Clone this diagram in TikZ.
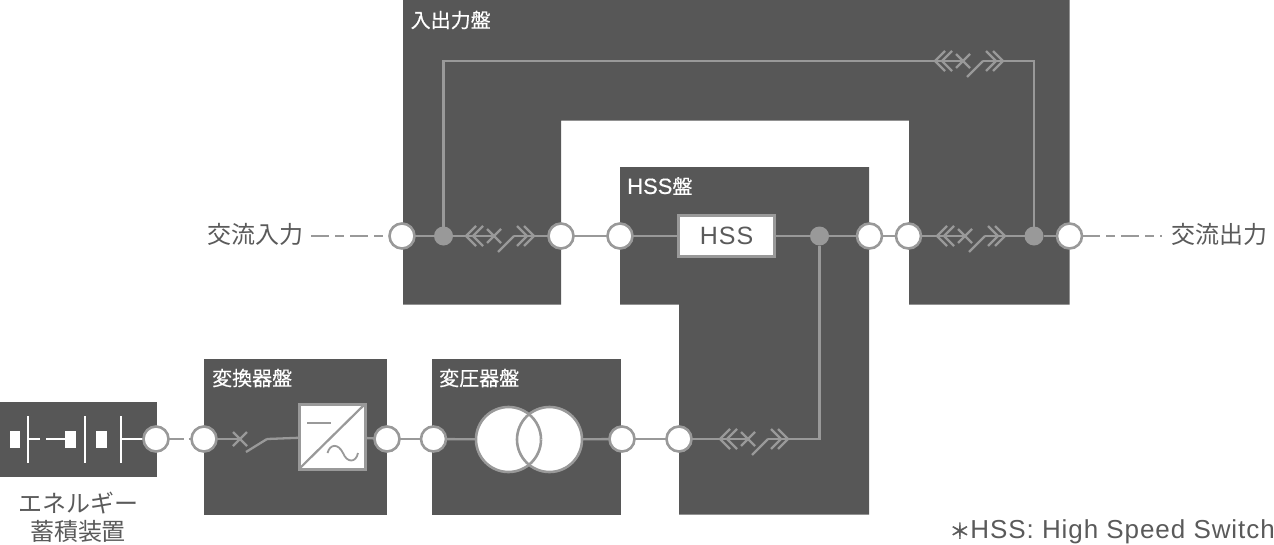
\documentclass[tikz,border=0pt]{standalone}
\usepackage{fontspec}
\setmainfont{Liberation Sans}
\newfontfamily\jp{Noto Sans CJK JP}
\newfontfamily\jpb[FakeBold=0.3]{Noto Sans CJK JP}
\newfontfamily\jpc[FakeBold=1.5]{Noto Sans CJK JP}
\newfontfamily\lat[LetterSpace=4]{Liberation Sans}
\newfontfamily\latn[LetterSpace=3.6]{Liberation Sans}
\newfontfamily\latb[FakeBold=0.3]{Liberation Sans}
\definecolor{panel}{HTML}{575757}
\definecolor{wire}{HTML}{999999}
\definecolor{ink}{HTML}{5A5A5A}
\pgfdeclarelayer{under}
\pgfdeclarelayer{wires}
\pgfsetlayers{under,wires,main}
\tikzset{
  x=1pt,y=-1pt,
  panelfill/.style={fill=panel,draw=none},
  wireline/.style={draw=wire,line width=2.3pt},
  port/.style={circle,fill=white,draw=wire,line width=2.6pt,minimum size=25pt,inner sep=0pt,outer sep=0pt},
  tap/.style={circle,fill=wire,draw=none,minimum size=19pt,inner sep=0pt,outer sep=0pt},
  plabel/.style={text=white,anchor=west,inner sep=0pt,font=\jpb\fontsize{20}{20}\selectfont},
  olabel/.style={text=ink,inner sep=0pt,font=\jp\fontsize{24}{28}\selectfont,align=center},
  feed/.style={wireline,dash pattern=on 18pt off 6pt on 9pt off 6pt},
  whiteline/.style={draw=white,line width=2pt},
  whitebar/.style={fill=white,draw=none},
  dsw/.pic={
    \coordinate (-l) at (-28,0);
    \coordinate (-m) at (0,0);
    \coordinate (-r) at (20,0);
    \coordinate (-e) at (40,0);
    \draw[wireline] (-7,-7) -- (7,7) (-7,7) -- (7,-7);
    \draw[wireline] (4,16) -- (20,0);
    \draw[wireline] (-18,-10) -- (-28,0) -- (-18,10);
    \draw[wireline] (-11,-10) -- (-21,0) -- (-11,10);
    \draw[wireline] (23,-10) -- (33,0) -- (23,10);
    \draw[wireline] (30,-10) -- (40,0) -- (30,10);
  },
  psw/.pic={
    \coordinate (-m) at (0,0);
    \coordinate (-r) at (27,0);
    \draw[wireline] (-7,-7) -- (7,7) (-7,7) -- (7,-7);
    \draw[wireline] (6,13) -- (27,0);
  }
}
\begin{document}
\begin{tikzpicture}
\useasboundingbox (0,0) rectangle (1274,544);
\begin{pgfonlayer}{under}
  \path[panelfill] (403,0) -- (1069.5,0) -- (1069.5,304.5) -- (909,304.5) -- (909,120.5) -- (561,120.5) -- (561,304.5) -- (403,304.5) -- cycle;
  \path[panelfill] (620,167) -- (869,167) -- (869,514.5) -- (679,514.5) -- (679,304.5) -- (620,304.5) -- cycle;
  \path[panelfill] (204,359) rectangle (387,514.5);
  \path[panelfill] (432,359) rectangle (621,514.5);
  \path[panelfill] (0,402) rectangle (157,477);
\end{pgfonlayer}

% ports
\node[port] (p1) at (402,236) {};
\node[port] (p2) at (561,236) {};
\node[port] (p3) at (620,236) {};
\node[port] (p4) at (869.5,236) {};
\node[port] (p5) at (908.5,236) {};
\node[port] (p6) at (1069.5,236) {};
\node[port] (q1) at (156,439) {};
\node[port] (q2) at (204,439) {};
\node[port] (q3) at (387,439) {};
\node[port] (q4) at (433.5,439) {};
\node[port] (q5) at (622,439) {};
\node[port] (q6) at (679,439) {};
% taps
\node[tap] (t1) at (443.5,236) {};
\node[tap] (t2) at (819.5,236) {};
\node[tap] (t3) at (1034,236) {};
% boxes
\node[draw=wire,fill=white,line width=2.4pt,minimum width=96pt,minimum height=41pt,inner sep=0pt,outer sep=0pt,text=ink,font=\lat\fontsize{25}{25}\selectfont] (hss) at (726.5,236) {HSS};
\node[draw=wire,fill=white,line width=3pt,minimum width=66pt,minimum height=65pt,inner sep=0pt,outer sep=0pt] (conv) at (332,436.5) {};
\draw[wire,line width=2.2pt] (conv.south west) -- (conv.north east);
\draw[wire,line width=1.8pt] (307,423) -- (331,423);
\draw[wire,line width=1.8pt] (327.5,453) .. controls (330,444) and (338,443) .. (343,453) .. controls (347,463) and (356,463) .. (358,453);
\node[circle,draw=wire,fill=white,line width=2.6pt,minimum size=65pt,inner sep=0pt,outer sep=0pt] (tl) at (508.5,439.5) {};
\node[circle,draw=wire,fill=white,line width=2.6pt,minimum size=65pt,inner sep=0pt,outer sep=0pt] (tr) at (549.5,439.5) {};
\draw[wire,line width=2.6pt] (508.5,439.5) ++(0:32.5) arc[start angle=0,end angle=51,radius=32.5];
\draw[wire,line width=2.6pt] (508.5,439.5) ++(0:32.5) arc[start angle=0,end angle=-51,radius=32.5];

% switches
\pic (s1) at (494,236) {dsw};
\pic (s2) at (963,61) {dsw};
\pic (s3) at (965,236) {dsw};
\pic (s4) at (748,439) {dsw};
\pic (s5) at (240,439) {psw};

% free ends
\coordinate (inL) at (311,236);
\coordinate (outR) at (1162,236);
\coordinate (c1) at (443.5,61);
\coordinate (c2) at (1034,61);
\coordinate (c3) at (819.5,439);

\begin{pgfonlayer}{wires}
  \draw[feed] (inL) -- (p1);
  \draw[feed] (p6) -- (outR);
  \draw[wireline,dash pattern=on 15pt off 5pt on 8pt off 8pt] (q1) -- (q2);
  \draw[wireline] (p1) -- (t1);
  \draw[wireline] (t1) -- (s1-m);
  \draw[wireline] (s1-r) -- (p2);
  \draw[wireline] (p2) -- (p3);
  \draw[wireline] (p3) -- (hss);
  \draw[wireline] (hss) -- (t2);
  \draw[wireline] (t2) -- (p4);
  \draw[wireline] (p4) -- (p5);
  \draw[wireline] (p5) -- (s3-m);
  \draw[wireline] (s3-r) -- (t3);
  \draw[wireline] (t3) -- (p6);
  \draw[wireline] (t1) -- (c1) -- (s2-m);
  \draw[wireline] (s2-r) -- (c2) -- (t3);
  \draw[wireline] (q2) -- (s5-m);
  \draw[wireline] (s5-r) -- (conv);
  \draw[wireline] (conv) -- (q3);
  \draw[wireline] (q3) -- (q4);
  \draw[wireline] (q4) -- (tl);
  \draw[wireline] (tr) -- (q5);
  \draw[wireline] (q5) -- (q6);
  \draw[wireline] (q6) -- (s4-m);
  \draw[wireline] (s4-r) -- (c3) -- (t2);
  % battery symbol
  \path[whitebar] (9.5,431) rectangle (20,448);
  \draw[whiteline] (28,416) -- (28,463);
  \draw[whiteline] (28,439) -- (40,439);
  \draw[whiteline] (46,439) -- (65,439);
  \path[whitebar] (65,431) rectangle (76,448);
  \draw[whiteline] (85,416) -- (85,463);
  \path[whitebar] (96,431) rectangle (107,448);
  \draw[whiteline] (121,416) -- (121,463);
  \draw[whiteline] (121,439) -- (q1);
\end{pgfonlayer}

% labels
\node[plabel] (l1) at (410.5,20) {入出力盤};
\node[plabel] (l2) at (627,186) {{\latb\fontsize{22}{20}\selectfont HSS}盤};
\node[plabel] (l3) at (212,378) {変換器盤};
\node[plabel] (l4) at (439,378) {変圧器盤};
\node[olabel] (l5) at (255,234) {交流入力};
\node[olabel] (l6) at (1219,234) {交流出力};
\node[olabel] (l7) at (78,517) {エネルギー\\蓄積装置};
\node[text=ink,anchor=east,inner sep=0pt,font=\latn\fontsize{26}{26}\selectfont] (l8) at (1275,532) {{\jpc\fontsize{21}{21}\selectfont ＊}HSS: High Speed Switch};
\end{tikzpicture}
\end{document}
